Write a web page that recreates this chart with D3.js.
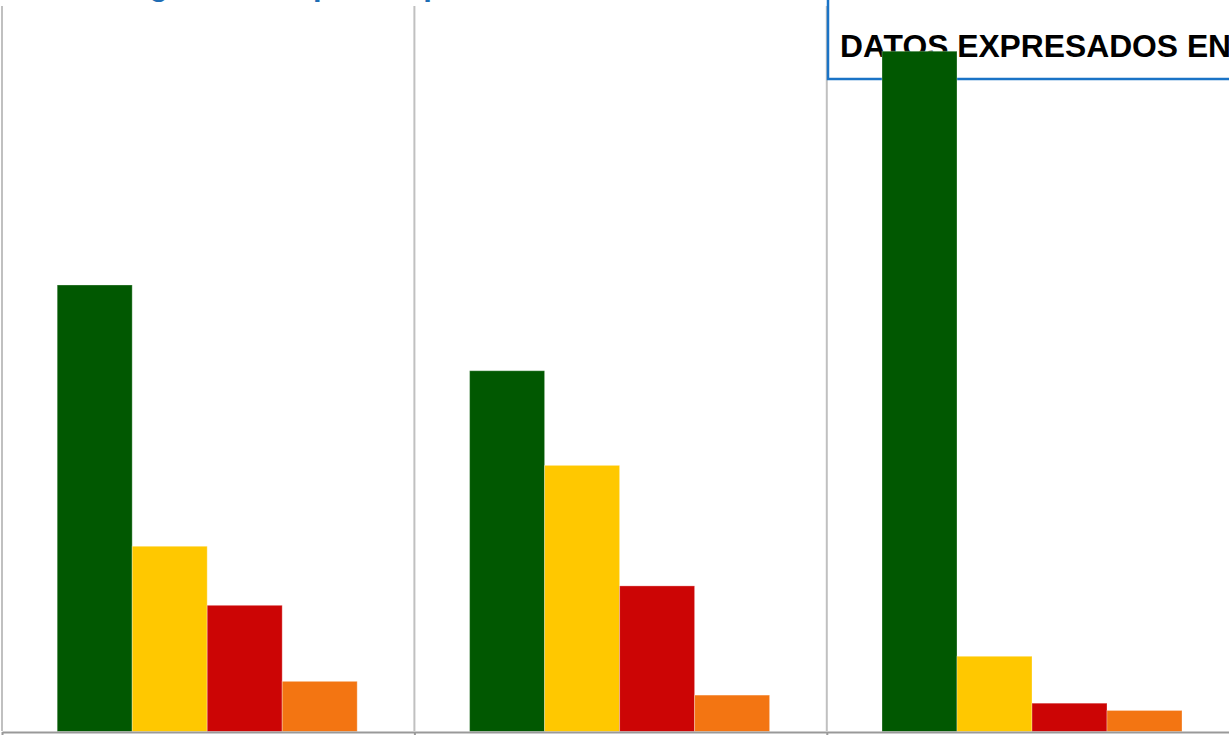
<!DOCTYPE html>
<html>
<head>
<meta charset="utf-8">
<script src="https://cdn.jsdelivr.net/npm/d3@7"></script>
<style>
  body { margin: 0; background: #fff; overflow: hidden; }
  svg { display: block; }
</style>
</head>
<body>
<svg id="chart" width="1229" height="735"></svg>
<script>
// data (percent per group, groups sum to ~100)
var groups = ["Grupo 1", "Grupo 2", "Grupo 3"];
var series = ["Bueno", "Regular", "Malo", "Otro"];
var colors = ["#015801", "#ffc800", "#cc0505", "#f37512"];
var values = [
  [55.2, 22.9, 15.6, 6.2],
  [44.6, 32.9, 18.0, 4.5],
  [84.1, 9.3, 3.5, 2.6]
];
var boxText = "DATOS EXPRESADOS EN %";
var titleText = "Satisfacción general de padres por centro";

var svg = d3.select('#chart');

var bandW = 412.4;
var x0 = d3.scaleBand().domain(groups).range([2, 2 + bandW * groups.length]);
var x1 = d3.scaleBand().domain(series).range([55.2, 355.2]);
var y = d3.scaleLinear().domain([0, 90]).range([731.5, 3.5]);

// vertical separators between groups
var edges = d3.range(groups.length + 1);
var xb = d3.scaleLinear().domain([0, groups.length]).range(x0.range());

svg.append('g').selectAll('line').data(edges).enter().append('line')
  .attr('x1', function(d){ return xb(d); })
  .attr('x2', function(d){ return xb(d); })
  .attr('y1', 6)
  .attr('y2', 731)
  .attr('stroke', '#c0c0c0')
  .attr('stroke-width', 2);

// title (cut off at the top, only descenders show)
svg.append('text')
  .attr('x', -42)
  .attr('y', -5)
  .attr('fill', '#1f6db4')
  .attr('font-family', '"Liberation Sans", Arial, sans-serif')
  .attr('font-weight', 'bold')
  .attr('font-size', 31)
  .text(titleText);

// note box
svg.append('rect')
  .attr('x', 828)
  .attr('y', -10)
  .attr('width', 520)
  .attr('height', 89)
  .attr('fill', '#fff')
  .attr('stroke', '#1a73c6')
  .attr('stroke-width', 2.5);

svg.append('text')
  .attr('x', 840)
  .attr('y', 57)
  .attr('fill', '#000')
  .attr('font-family', '"Liberation Sans", Arial, sans-serif')
  .attr('font-weight', 'bold')
  .attr('font-size', 31.8)
  .text(boxText);

// bars
var grp = svg.append('g').selectAll('g').data(values).enter().append('g')
  .attr('transform', function(d, i){ return 'translate(' + x0(groups[i]) + ',0)'; });

grp.selectAll('rect').data(function(d){ return d; }).enter().append('rect')
  .attr('x', function(d, i){ return x1(series[i]); })
  .attr('width', x1.bandwidth())
  .attr('y', function(d){ return y(d); })
  .attr('height', function(d){ return y(0) - y(d); })
  .attr('fill', function(d, i){ return colors[i]; })
  .attr('stroke', 'rgba(255,255,255,0.3)')
  .attr('stroke-width', 1);

// bottom axis
var axis = d3.axisBottom(xb).tickValues(edges).tickFormat('').tickSizeInner(4).tickSizeOuter(0);
var ax = svg.append('g').attr('transform', 'translate(0,732)').call(axis);
ax.select('.domain').attr('stroke', '#999').attr('stroke-width', 2);
ax.selectAll('.tick line').attr('stroke', '#999').attr('stroke-width', 2);
</script>
</body>
</html>
